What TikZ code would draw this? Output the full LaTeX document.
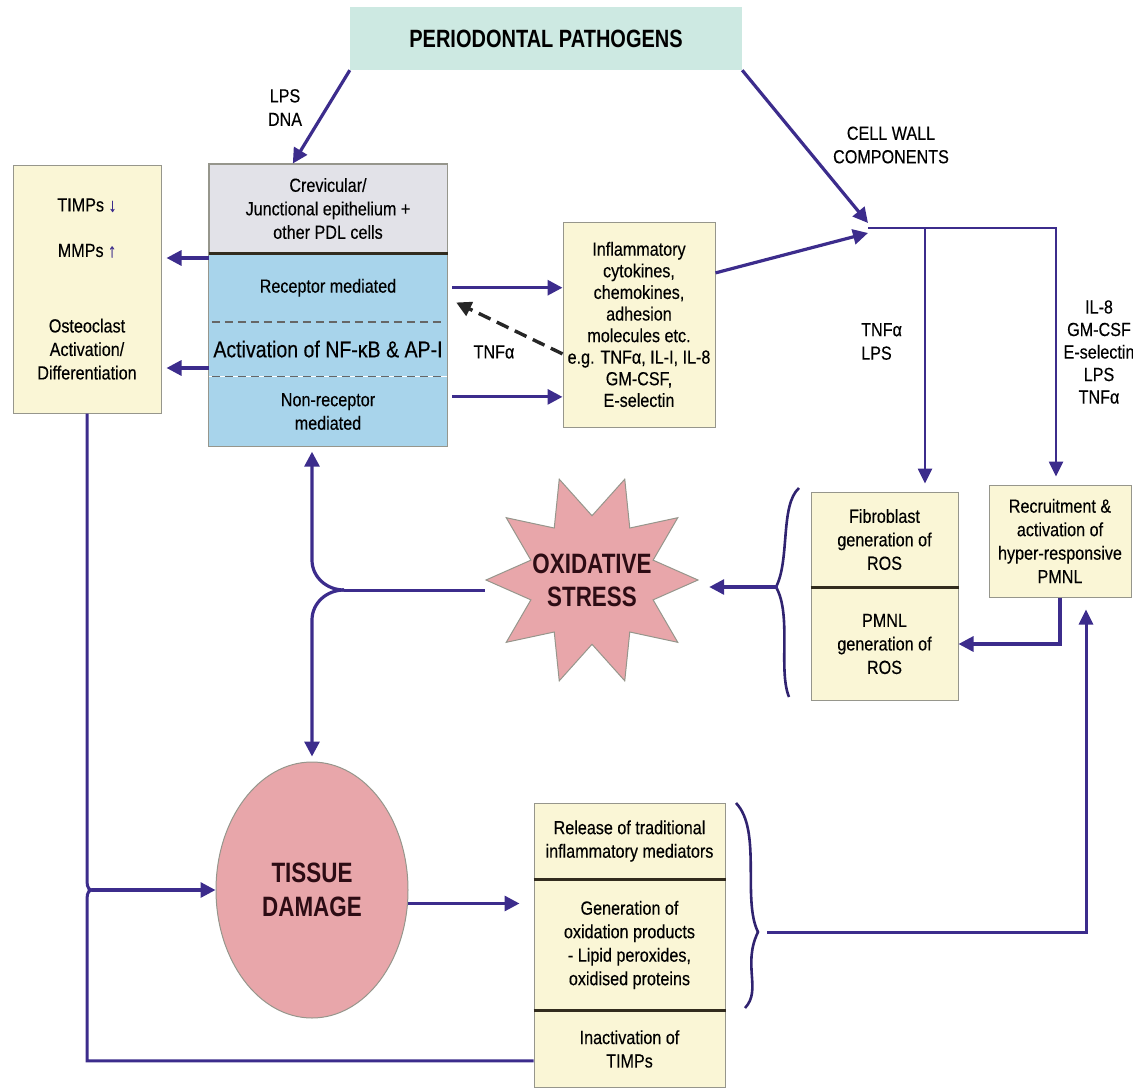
\documentclass[tikz,border=0pt]{standalone}
\usepackage{fontspec}
\setmainfont{Liberation Sans}[FakeStretch=0.85,FakeBold=0.3]
\newfontfamily\headfont{Liberation Sans}[FakeStretch=0.8]
\usetikzlibrary{positioning,arrows.meta,calc,shapes.geometric}
\definecolor{FlowPurple}{RGB}{60,44,140}
\definecolor{PathoTeal}{RGB}{205,233,226}
\definecolor{CreamBand}{RGB}{250,246,214}
\definecolor{GreyBand}{RGB}{226,226,232}
\definecolor{SkyBand}{RGB}{168,212,235}
\definecolor{PinkBand}{RGB}{232,166,170}
\definecolor{EdgeGrey}{RGB}{150,150,140}
\definecolor{RuleDark}{RGB}{50,44,30}
\definecolor{HeadInk}{RGB}{45,12,20}
\tikzset{
  flow/.style={-{Triangle[length=15pt,width=15pt]},line width=3.2pt,draw=FlowPurple},
  thinflow/.style={-{Triangle[length=15pt,width=14pt]},line width=2.6pt,draw=FlowPurple},
  link/.style={line width=3pt,draw=FlowPurple},
  wavy/.style={line width=2.6pt,draw=FlowPurple!80!black},
  dashflow/.style={-{Triangle[length=15pt,width=15pt]},line width=3.4pt,
    dash pattern=on 13pt off 7pt,draw=black!85},
  body/.style={font=\fontsize{19}{23.5}\selectfont,align=center,inner sep=0pt},
  box/.style={body,draw=EdgeGrey,line width=1pt,fill=CreamBand},
  band/.style={body,fill=SkyBand,minimum width=238pt},
  rule/.style={line width=3pt,draw=RuleDark},
  dashline/.style={line width=1.6pt,draw=black!60,dash pattern=on 8pt off 5pt},
  headtext/.style={font=\headfont\bfseries\fontsize{28}{33}\selectfont,text=HeadInk,align=center},
  burst/.style={star,star points=10,star point ratio=1.65,shape border rotate=18,
    minimum size=212pt,inner sep=0pt,fill=PinkBand,draw=EdgeGrey,line width=1pt}
}
\begin{document}
\begin{tikzpicture}[x=1pt,y=1pt]
  \useasboundingbox (0,0) rectangle (1133,-1088);

  \node[fill=PathoTeal,minimum width=392pt,minimum height=63pt,inner sep=0pt,
    font=\headfont\bfseries\fontsize{25}{28}\selectfont] (pathogens) at (546,-38.5) {PERIODONTAL PATHOGENS};
  \node[body] (lpsdna) at (285,-107.5) {LPS\\DNA};
  \node[body] (cwlabel) at (891,-145) {CELL WALL\\COMPONENTS};

  \node[box,minimum width=148pt,minimum height=248pt] (mmpbox) at (87,-289) {
    TIMPs \textcolor{FlowPurple}{\bfseries↓}\\[22pt]
    MMPs \textcolor{FlowPurple}{\bfseries↑}\\[52pt]
    Osteoclast\\Activation/\\Differentiation};

  \node[box,fill=GreyBand,minimum width=238pt,minimum height=89pt] (crev) at (328,-208.5) {
    Crevicular/\\Junctional epithelium +\\other PDL cells};
  \node[band,minimum height=68pt,below=0pt of crev] (recep) {Receptor mediated};
  \node[band,minimum height=54pt,below=0pt of recep,font=\fontsize{23}{26}\selectfont] (nfkb) {Activation of NF-κB \& AP-I};
  \node[band,minimum height=70pt,below=0pt of nfkb] (nonrecep) {Non-receptor\\mediated};
  \draw[dashline,shorten <=3pt,shorten >=5pt] (nfkb.north west) -- (nfkb.north east);
  \draw[dashline,shorten <=3pt,shorten >=5pt] (nfkb.south west) -- (nfkb.south east);
  \draw[draw=EdgeGrey,line width=1pt] (crev.north west) rectangle (nonrecep.south east);
  \draw[rule] (crev.south west) -- (crev.south east);

  \node[box,minimum width=152pt,minimum height=205pt,font=\fontsize{19}{21.6}\selectfont] (inflam) at (639,-324.5) {
    Inflammatory\\cytokines,\\chemokines,\\adhesion\\molecules etc.\\e.g. TNFα, IL-I, IL-8\\GM-CSF,\\E-selectin};
  \node[body] (tnfdash) at (494,-352) {TNFα};

  \node[body,align=left,anchor=west] (tnflps) at (861,-341.5) {TNFα\\LPS};
  \node[body,font=\fontsize{19}{22.5}\selectfont] (ilmix) at (1099,-352) {IL-8\\GM-CSF\\E-selectin\\LPS\\TNFα};

  \node[box,minimum width=147pt,minimum height=95pt] (fibros) at (884.5,-539.5) {Fibroblast\\generation of\\ROS};
  \node[box,minimum width=147pt,minimum height=112pt,below=0pt of fibros] (pmnlros) {PMNL\\generation of\\ROS};
  \draw[rule] (fibros.south west) -- (fibros.south east);
  \node[box,minimum width=142pt,minimum height=112pt] (recruit) at (1060,-541) {
    Recruitment \&\\activation of\\hyper-responsive\\PMNL};

  \node[burst,label={[headtext]center:{OXIDATIVE\\STRESS}}] (stress) at (592,-580) {};
  \node[ellipse,fill=PinkBand,draw=EdgeGrey,line width=1pt,minimum width=192pt,
    minimum height=256pt,inner sep=0pt,headtext,font=\headfont\bfseries\fontsize{28}{34}\selectfont] (tissue) at (312,-890) {TISSUE\\DAMAGE};

  \node[box,minimum width=191pt,minimum height=76pt] (release) at (629.5,-841) {
    Release of traditional\\inflammatory mediators};
  \node[box,minimum width=191pt,minimum height=130pt,below=0pt of release] (oxprod) {
    Generation of\\oxidation products\\- Lipid peroxides,\\oxidised proteins};
  \node[box,minimum width=191pt,minimum height=76pt,below=0pt of oxprod] (inact) {
    Inactivation of\\TIMPs};
  \draw[rule] (release.south west) -- (release.south east);
  \draw[rule] (oxprod.south west) -- (oxprod.south east);

  \coordinate (cwjoin) at (868,-228);
  \coordinate (tnfbr) at (925,-228);
  \draw[flow] (pathogens.south west) -- (crev.128);
  \draw[flow] (pathogens.south east) -- ([yshift=5pt]cwjoin);
  \draw[flow] (inflam.34) -- ([yshift=-5pt]cwjoin);
  \draw[thinflow,shorten >=8pt] (cwjoin) -| ([xshift=-4pt]recruit.north);
  \draw[thinflow,shorten >=8pt] (tnfbr) -- (tnfbr |- fibros.north);

  \draw[flow,shorten <=5pt] (recep.east) -- (recep.east -| inflam.west);
  \draw[flow,shorten <=5pt] (nonrecep.7) -- (nonrecep.7 -| inflam.west);
  \draw[flow,shorten >=5pt] (recep.166) -- (recep.166 -| mmpbox.east);
  \draw[flow,shorten >=5pt] (nfkb.189) -- (nfkb.189 -| mmpbox.east);
  \draw[dashflow,shorten >=10pt] (inflam.201) -- (recep.355);

  \draw[flow] (recruit.south) |- (pmnlros.east);
  \draw[wavy] (799,-488) .. controls (780,-505) and (790,-560) .. (776,-587)
    .. controls (792,-615) and (778,-670) .. (789,-697);
  \coordinate (rosjoin) at (778,-587);
  \draw[flow,shorten >=10pt] (rosjoin) -- (rosjoin -| stress.east);

  \coordinate (osjoin) at (344,-590);
  \draw[link] (osjoin -| stress.west) -- (osjoin);
  \draw[flow,shorten >=5pt] (osjoin) to[out=180,in=-90] ++(-32,30) -- (nonrecep.south -| tissue.north);
  \draw[flow,shorten >=5pt] (osjoin) to[out=180,in=90] ++(-32,-30) -- (tissue.north);

  \coordinate (tdjoin) at (92,-890);
  \draw[link] (tdjoin) to[out=180,in=-90] ++(-5,13) -- (mmpbox.south);
  \draw[link] (tdjoin) to[out=180,in=90] ++(-5,-13) |- (inact.187);
  \draw[flow] (tdjoin) -- (tissue.west);
  \draw[flow,shorten >=14pt] (tissue.-8) -- (tissue.-8 -| oxprod.west);

  \draw[wavy] (736,-803) .. controls (762,-830) and (742,-900) .. (758,-932)
    .. controls (742,-965) and (762,-990) .. (745,-1008);
  \coordinate (dmgjoin) at (767,-932);
  \draw[link,-{Triangle[length=15pt,width=14pt]},shorten >=12pt] (dmgjoin) -| ([xshift=26pt]recruit.south);
\end{tikzpicture}
\end{document}
